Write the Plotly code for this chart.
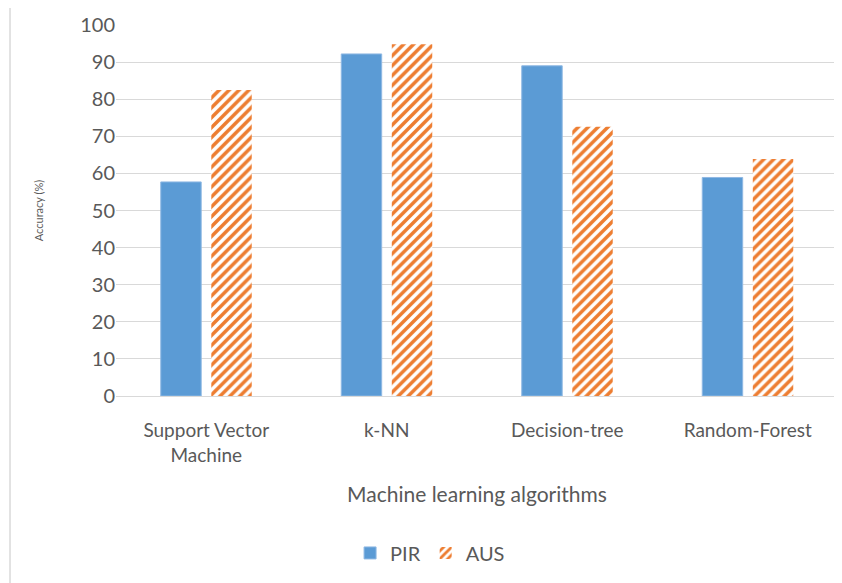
import plotly.graph_objects as go

# Data.
algorithms = ["Support Vector<br>Machine", "k-NN", "Decision-tree", "Random-Forest"]
pir_accuracy = [57.7, 92.2, 89.0, 58.9]
aus_accuracy = [82.5, 94.8, 72.6, 63.9]

FONT = "Lato, 'Open Sans', sans-serif"
TEXT_GREY = "#595959"
BLUE = "#5B9BD5"
ORANGE = "#ED7D31"

fig = go.Figure()
fig.add_trace(
    go.Bar(
        x=algorithms, y=pir_accuracy, name="PIR",
        marker=dict(color=BLUE, line=dict(color="#8FB8E3", width=1)),
    )
)
fig.add_trace(
    go.Bar(
        x=algorithms, y=aus_accuracy, name="AUS",
        marker=dict(
            color="white",
            line=dict(width=0),
            pattern=dict(shape="/", fgcolor=ORANGE, bgcolor="white", fgopacity=1,
                         size=7, solidity=0.5, fillmode="replace"),
        ),
    )
)

# page body has an 8px margin, so the figure is sized to fit the window
fig.update_layout(
    width=834, height=575,
    barmode="group", bargap=0.44, bargroupgap=0.2,
    plot_bgcolor="white", paper_bgcolor="white",
    font=dict(family=FONT, color=TEXT_GREY, size=20),
    margin=dict(l=108, r=4, t=17, b=187),
    showlegend=True,
    legend=dict(orientation="h", x=0.435, xanchor="center", y=-0.423, yanchor="middle",
                font=dict(size=20, color=TEXT_GREY), itemwidth=30),
    shapes=[dict(type="line", xref="paper", yref="paper",
                 x0=-0.1468, x1=-0.1468, y0=-0.6, y1=1.1,
                 line=dict(color="#D9D9D9", width=1.5))],
)
fig.update_xaxes(
    title=dict(text="Machine learning algorithms", font=dict(size=21, color=TEXT_GREY),
               standoff=22),
    showline=True, linecolor="#D9D9D9", linewidth=1,
    tickfont=dict(size=19, color=TEXT_GREY), ticks="", ticklabelstandoff=17,
)
fig.update_yaxes(
    title=dict(text="Accuracy (%)", font=dict(size=11, color=TEXT_GREY), standoff=34),
    range=[0, 100], dtick=10,
    showgrid=True, gridcolor="#D9D9D9", gridwidth=1,
    zeroline=False, showline=False,
    tickfont=dict(size=20, color=TEXT_GREY), ticks="",
)

fig.write_html("out.html")
